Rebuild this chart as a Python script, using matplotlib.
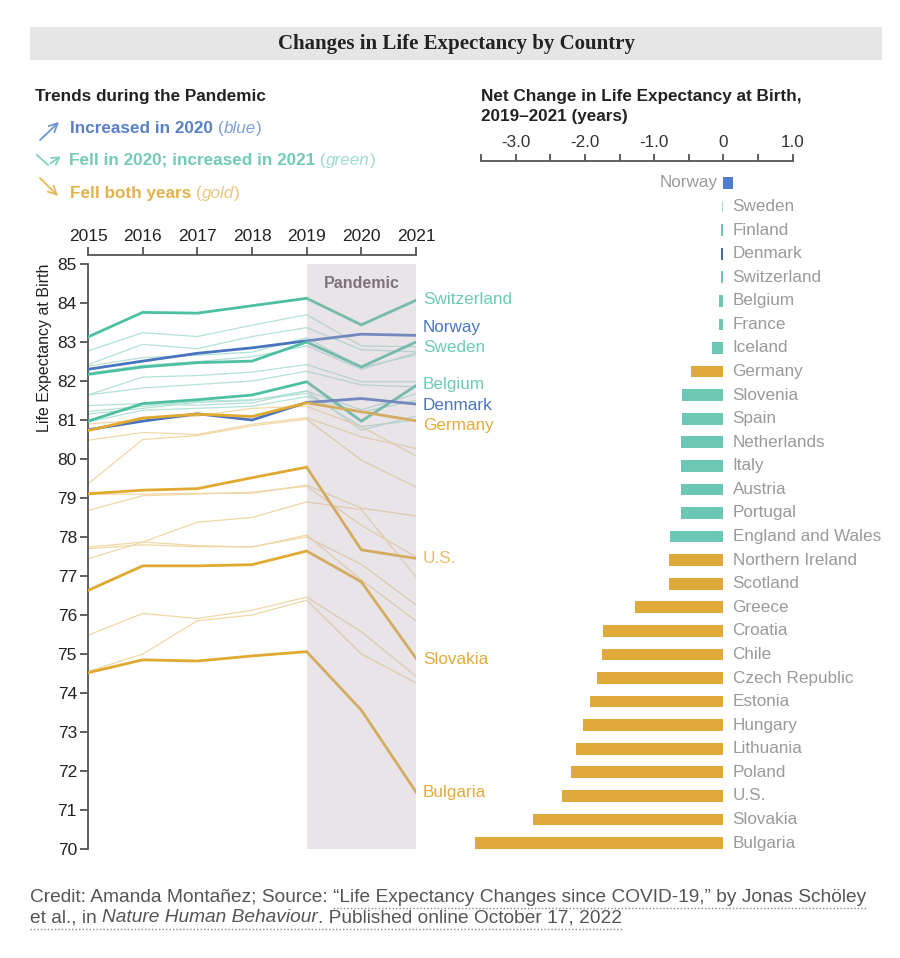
import matplotlib
matplotlib.use("Agg")
import matplotlib.pyplot as plt
from matplotlib.patches import Rectangle, FancyArrowPatch

plt.rcParams['font.family'] = ['Liberation Sans', 'DejaVu Sans']

years = [2015, 2016, 2017, 2018, 2019, 2020, 2021]

# highlighted countries (life expectancy at birth)
switzerland = [83.13, 83.76, 83.74, 83.93, 84.12, 83.44, 84.07]
norway = [82.30, 82.51, 82.71, 82.85, 83.03, 83.20, 83.17]
sweden = [82.17, 82.36, 82.47, 82.51, 83.00, 82.36, 83.00]
belgium = [80.97, 81.42, 81.52, 81.64, 81.98, 80.97, 81.88]
denmark = [80.75, 80.97, 81.16, 81.00, 81.45, 81.55, 81.41]
germany = [80.73, 81.05, 81.15, 81.09, 81.44, 81.21, 80.98]
usa = [79.11, 79.20, 79.24, 79.52, 79.79, 77.67, 77.45]
slovakia = [76.63, 77.26, 77.26, 77.29, 77.64, 76.85, 74.89]
bulgaria = [74.52, 74.85, 74.82, 74.95, 75.06, 73.56, 71.46]

# other countries, drawn faint
other_green = [
    [82.77, 83.24, 83.14, 83.43, 83.70, 82.90, 82.88],
    [82.42, 82.94, 82.83, 83.14, 83.37, 82.80, 82.75],
    [82.38, 82.60, 82.66, 82.74, 83.11, 82.35, 82.67],
    [82.20, 82.40, 82.50, 82.62, 82.90, 82.30, 82.72],
    [81.64, 82.10, 82.14, 82.23, 82.42, 81.98, 81.98],
    [81.64, 81.82, 81.91, 82.00, 82.25, 81.90, 81.85],
    [81.37, 81.42, 81.38, 81.44, 81.74, 81.26, 81.67],
    [81.22, 81.35, 81.48, 81.52, 81.68, 80.83, 81.00],
    [81.15, 81.30, 81.45, 81.50, 81.75, 80.74, 81.10],
    [80.95, 81.25, 81.30, 81.35, 81.60, 81.20, 81.50],
]
other_gold = [
    [80.48, 80.68, 80.63, 80.89, 81.06, 80.57, 80.27],
    [80.90, 81.00, 81.10, 81.30, 81.35, 80.83, 80.08],
    [79.36, 80.50, 80.60, 80.85, 81.02, 79.97, 79.28],
    [79.10, 79.10, 79.12, 79.12, 79.33, 78.74, 78.54],
    [78.68, 79.06, 79.10, 79.15, 79.30, 78.30, 77.49],
    [77.44, 77.87, 78.38, 78.50, 78.90, 78.70, 76.98],
    [77.74, 77.87, 77.78, 77.74, 78.05, 76.90, 75.85],
    [77.70, 77.80, 77.75, 77.75, 78.00, 77.30, 76.26],
    [75.48, 76.04, 75.91, 76.12, 76.46, 75.57, 74.43],
    [74.55, 75.00, 75.85, 76.00, 76.38, 75.00, 74.26],
]

# net change 2019-2021
bar_countries = ["Norway", "Sweden", "Finland", "Denmark", "Switzerland", "Belgium",
                 "France", "Iceland", "Germany", "Slovenia", "Spain", "Netherlands",
                 "Italy", "Austria", "Portugal", "England and Wales", "Northern Ireland",
                 "Scotland", "Greece", "Croatia", "Chile", "Czech Republic", "Estonia",
                 "Hungary", "Lithuania", "Poland", "U.S.", "Slovakia", "Bulgaria"]
net_change = [0.13, -0.02, -0.03, -0.03, -0.03, -0.07, -0.07, -0.16, -0.47, -0.60,
              -0.60, -0.61, -0.61, -0.62, -0.62, -0.77, -0.79, -0.79, -1.28, -1.74,
              -1.75, -1.82, -1.92, -2.03, -2.13, -2.20, -2.33, -2.75, -3.58]
trend = ["blue", "greenlight", "green", "bluedark", "green", "green", "green", "green",
         "gold", "green", "green", "green", "green", "green", "green", "green", "gold",
         "gold", "gold", "gold", "gold", "gold", "gold", "gold", "gold", "gold", "gold",
         "gold", "gold"]

BLUE = "#4a74c0"
GREEN = "#4dbfa3"
GOLD = "#e0a930"
bar_colors = {"blue": "#4f7fcc", "bluedark": "#4a6a9e", "green": "#6cc7b4",
              "greenlight": "#a9ddd0", "gold": "#e0aa3a"}

fig = plt.figure(figsize=(9, 9.58), dpi=100)
W, H = 900, 958

# ---------- right: bars (drawn first so line labels sit on top) ----------
n = len(bar_countries)
ax2 = fig.add_axes([474 / W, 1 - 854.8 / H, (792.8 - 474) / W, (854.8 - 171.2) / H])
ax2.patch.set_visible(False)
ax2.barh(range(n), net_change, height=0.5, color=[bar_colors[t] for t in trend], lw=0)
for i, (name, v) in enumerate(zip(bar_countries, net_change)):
    if v > 0:
        ax2.text(-0.09, i, name, ha="right", va="center", fontsize=12.3, color="#9a9a9a")
    else:
        ax2.text(0.13, i, name, ha="left", va="center", fontsize=12.3, color="#9a9a9a",
                 clip_on=False)
ax2.set_xlim(-3.6, 1.0)
ax2.set_ylim(n - 0.5, -0.5)
ax2.set_yticks([])
ax2.xaxis.tick_top()
ax2.set_xticks([-3, -2, -1, 0, 1])
ax2.set_xticklabels(["-3.0", "-2.0", "-1.0", "0", "1.0"])
ax2.set_xticks([-3.5, -2.5, -1.5, -0.5, 0.5], minor=True)
for s in ["right", "bottom", "left"]:
    ax2.spines[s].set_visible(False)
ax2.spines["top"].set_position(("outward", 7))
ax2.spines["top"].set_bounds(-3.5, 1.0)
ax2.spines["top"].set_color("#555555")
ax2.spines["top"].set_linewidth(1.3)
ax2.tick_params(axis="x", which="both", direction="out", length=5, width=1.3,
                color="#555555", labelsize=12.3, labelcolor="#333333", pad=3)

# ---------- left: lines ----------
ax = fig.add_axes([88 / W, 1 - 849 / H, (416 - 88) / W, (849 - 264) / H])
ax.patch.set_visible(False)
for vals in other_green:
    ax.plot(years, vals, color="#b3e2d6", lw=0.9, zorder=1)
for vals in other_gold:
    ax.plot(years, vals, color="#f0d8a6", lw=0.9, zorder=1)

highlighted = [
    ("Switzerland", switzerland, GREEN, "#6ccab6", 84.08),
    ("Norway", norway, BLUE, "#4b75c2", 83.36),
    ("Sweden", sweden, GREEN, "#6ccab6", 82.85),
    ("Belgium", belgium, GREEN, "#6ccab6", 81.92),
    ("Denmark", denmark, BLUE, "#4b75c2", 81.36),
    ("Germany", germany, GOLD, "#e2ab3c", 80.85),
    ("U.S.", usa, GOLD, "#e6be6a", 77.44),
    ("Slovakia", slovakia, GOLD, "#e2ab3c", 74.85),
    ("Bulgaria", bulgaria, GOLD, "#e2ab3c", 71.44),
]
for name, vals, col, tcol, ly in highlighted:
    ax.plot(years, vals, color=col, lw=2.0, zorder=3, solid_joinstyle="miter")
    ax.text(2021.13, ly, name, color=tcol, fontsize=12.3, va="center", ha="left",
            clip_on=False)

ax.axvspan(2019, 2021, color="#c0b3bd", alpha=0.35, lw=0, zorder=5)
ax.text(2020, 84.5, "Pandemic", ha="center", va="center", fontsize=11.5,
        fontweight="bold", color="#7b7479", zorder=6)

ax.set_xlim(2015, 2021)
ax.set_ylim(70, 85)
ax.set_yticks(range(70, 86))
ax.set_xticks(years)
ax.xaxis.tick_top()
for s in ["right", "bottom"]:
    ax.spines[s].set_visible(False)
ax.spines["top"].set_position(("outward", 6.5))
for s in ["top", "left"]:
    ax.spines[s].set_color("#555555")
    ax.spines[s].set_linewidth(1.3)
ax.tick_params(axis="both", direction="out", length=6, width=1.3, color="#555555",
               labelsize=12.5, labelcolor="#222222", pad=2)
ax.set_ylabel("Life Expectancy at Birth", fontsize=11.5, color="#222222", labelpad=4,
              loc="top")

# ---------- overlay: headings, legend, credit ----------
ov = fig.add_axes([0, 0, 1, 1], facecolor="none")
ov.set_xlim(0, W)
ov.set_ylim(H, 0)
ov.axis("off")

ov.add_patch(Rectangle((30, 27), 852, 33, color="#e6e6e6", lw=0))
ov.text(456, 44, "Changes in Life Expectancy by Country", ha="center", va="center",
        fontsize=15, fontweight="bold", family="Liberation Serif", color="#222222")

ov.text(35, 96, "Trends during the Pandemic", ha="left", va="center", fontsize=12.3,
        fontweight="bold", color="#222222")
ov.text(481, 96, "Net Change in Life Expectancy at Birth,", ha="left", va="center",
        fontsize=12.3, fontweight="bold", color="#222222")
ov.text(481, 116, "2019\u20132021 (years)", ha="left", va="center", fontsize=12.3,
        fontweight="bold", color="#222222")

fig.canvas.draw()
renderer = fig.canvas.get_renderer()


def runs(x, y, pieces, size):
    for s, col, weight, style in pieces:
        t = ov.text(x, y, s, ha="left", va="center", fontsize=size, color=col,
                    fontweight=weight, fontstyle=style)
        bb = t.get_window_extent(renderer)
        x = bb.x1
    return x


legend_rows = [
    (128, "Increased in 2020 ", "blue", "#5a80c8", "#7f9fd6"),
    (160, "Fell in 2020; increased in 2021 ", "green", "#72cbb8", "#9fdccf"),
    (193, "Fell both years ", "gold", "#e2b24e", "#eac67e"),
]
for y, main, word, col, light in legend_rows:
    runs(70 if word != "green" else 69, y,
         [(main, col, "bold", "normal"), ("(", light, "normal", "normal"),
          (word, light, "normal", "italic"), (")", light, "normal", "normal")], 12.3)

ov.add_patch(FancyArrowPatch((38, 142), (61, 120), color="#6f93d0",
                             arrowstyle="->,head_length=6,head_width=3", lw=1.3))
ov.plot([37, 48], [155, 165], color="#7ed0bf", lw=1.3)
ov.add_patch(FancyArrowPatch((48, 165), (63, 155), color="#7ed0bf",
                             arrowstyle="->,head_length=5,head_width=3", lw=1.3))
ov.add_patch(FancyArrowPatch((38, 176), (60, 198), color="#e6bb5e",
                             arrowstyle="->,head_length=6,head_width=3", lw=1.3))

credit_col = "#555555"
cs = 13.8
x1 = runs(30, 897, [("Credit: Amanda Monta\u00f1ez; Source: ", credit_col, "normal", "normal")], cs)
x_end = runs(x1, 897, [("\u201cLife Expectancy Changes since COVID-19,\u201d by Jonas Sch\u00f6ley",
                        credit_col, "normal", "normal")], cs)
ov.plot([x1, x_end], [908, 908], color="#888888", lw=1.0, ls=(0, (1, 1.5)))
x2 = runs(30, 918, [("et al., in ", credit_col, "normal", "normal"),
                    ("Nature Human Behaviour", credit_col, "normal", "italic"),
                    (". Published online October 17, 2022", credit_col, "normal", "normal")], cs)
ov.plot([30, x2], [929, 929], color="#888888", lw=1.0, ls=(0, (1, 1.5)))

fig.savefig("out.png", dpi=100)
